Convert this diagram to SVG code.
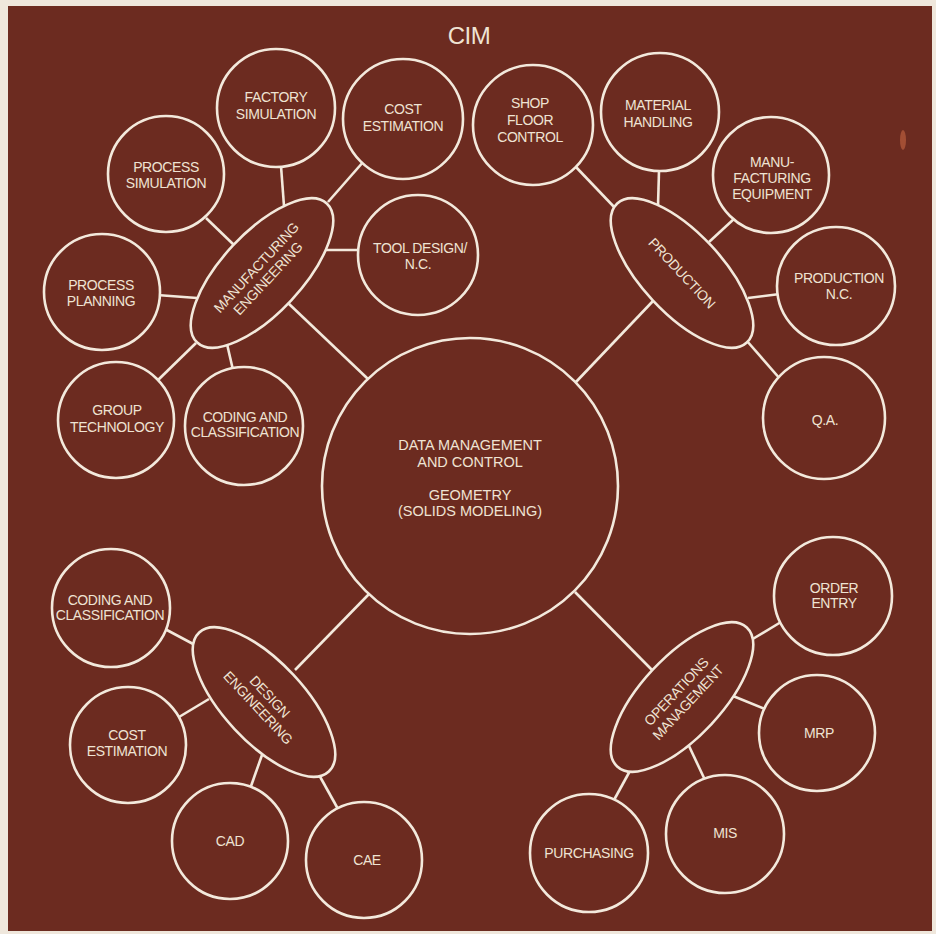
<svg xmlns="http://www.w3.org/2000/svg" width="936" height="934" viewBox="0 0 936 934">
<style>
.bg{fill:#6c2b20}
.n{fill:#6c2b20;stroke:#f3e9dc;stroke-width:2.6}
.c line{stroke:#f3e9dc;stroke-width:2.6}
text{font-family:"Liberation Sans",Arial,sans-serif;font-size:14px;fill:#efe3d3;text-anchor:middle;letter-spacing:-0.4px}
.t{font-size:24px;letter-spacing:-0.5px}
.m{font-size:14.5px;letter-spacing:0}
</style>
<rect width="936" height="934" fill="#efe7dc"/>
<rect class="bg" x="8" y="6" width="924" height="925"/>
<ellipse cx="903" cy="140" rx="3" ry="10" fill="#b0573a" opacity="0.8"/>
<text class="t" x="469" y="44">CIM</text>
<g class="c" id="connectors">
<line x1="281" y1="166" x2="284" y2="206"/>
<line x1="328" y1="202" x2="364" y2="161"/>
<line x1="206" y1="218" x2="234" y2="245"/>
<line x1="322" y1="250" x2="362" y2="250"/>
<line x1="157" y1="295" x2="197" y2="298"/>
<line x1="156" y1="382" x2="196" y2="343"/>
<line x1="227" y1="344" x2="233" y2="370"/>
<line x1="288" y1="303" x2="368" y2="379"/>
<line x1="575" y1="166" x2="616" y2="209"/>
<line x1="659" y1="171" x2="658" y2="206"/>
<line x1="709" y1="242" x2="735" y2="218"/>
<line x1="748" y1="298" x2="780" y2="294"/>
<line x1="747" y1="341" x2="781" y2="380"/>
<line x1="653" y1="301" x2="575" y2="383"/>
<line x1="165" y1="629" x2="195" y2="645"/>
<line x1="179" y1="717" x2="209" y2="699"/>
<line x1="250" y1="789" x2="262" y2="755"/>
<line x1="318" y1="773" x2="338" y2="809"/>
<line x1="295" y1="670" x2="369" y2="594"/>
<line x1="575" y1="592" x2="653" y2="671"/>
<line x1="751" y1="640" x2="781" y2="622"/>
<line x1="733" y1="696" x2="765" y2="709"/>
<line x1="689" y1="746" x2="705" y2="780"/>
<line x1="631" y1="769" x2="614" y2="800"/>
</g>
<g id="central"><circle class="n" cx="470" cy="486" r="148"/>
<text class="m" x="470" y="450">DATA MANAGEMENT</text><text class="m" x="470" y="467">AND CONTROL</text>
<text class="m" x="470" y="500">GEOMETRY</text><text class="m" x="470" y="516">(SOLIDS MODELING)</text></g>

<g id="manufacturing-engineering" transform="translate(262,273) rotate(-47)"><ellipse class="n" rx="95" ry="40"/>
<text y="-3">MANUFACTURING</text><text y="13">ENGINEERING</text></g>
<g id="factory-simulation"><circle class="n" cx="276" cy="108" r="59"/><text x="276" y="102">FACTORY</text><text x="276" y="119">SIMULATION</text></g>
<g id="cost-estimation-1"><circle class="n" cx="403" cy="119" r="60"/><text x="403" y="114">COST</text><text x="403" y="131">ESTIMATION</text></g>
<g id="process-simulation"><circle class="n" cx="166" cy="174" r="58"/><text x="166" y="172">PROCESS</text><text x="166" y="188">SIMULATION</text></g>
<g id="tool-design"><circle class="n" cx="418" cy="255" r="60"/><text x="420" y="253">TOOL DESIGN/</text><text x="418" y="269">N.C.</text></g>
<g id="process-planning"><circle class="n" cx="102" cy="292" r="58"/><text x="101" y="290">PROCESS</text><text x="101" y="306">PLANNING</text></g>
<g id="group-technology"><circle class="n" cx="116" cy="420" r="58"/><text x="117" y="415">GROUP</text><text x="117" y="432">TECHNOLOGY</text></g>
<g id="coding-classification-1"><circle class="n" cx="244" cy="426" r="59"/><text x="245" y="422">CODING AND</text><text x="245" y="437">CLASSIFICATION</text></g>

<g id="production" transform="translate(682,273) rotate(47)"><ellipse class="n" rx="95" ry="40"/><text y="5">PRODUCTION</text></g>
<g id="shop-floor-control"><circle class="n" cx="533" cy="125" r="60"/><text x="530" y="108">SHOP</text><text x="530" y="125">FLOOR</text><text x="530" y="142">CONTROL</text></g>
<g id="material-handling"><circle class="n" cx="660" cy="112" r="59"/><text x="658" y="110">MATERIAL</text><text x="658" y="127">HANDLING</text></g>
<g id="manufacturing-equipment"><circle class="n" cx="771" cy="175" r="58"/><text x="772" y="167">MANU-</text><text x="772" y="183">FACTURING</text><text x="772" y="199">EQUIPMENT</text></g>
<g id="production-nc"><circle class="n" cx="836" cy="286" r="59"/><text x="839" y="283">PRODUCTION</text><text x="839" y="299">N.C.</text></g>
<g id="qa"><circle class="n" cx="824" cy="418" r="61"/><text x="825" y="425">Q.A.</text></g>

<g id="design-engineering" transform="translate(264,702) rotate(47)"><ellipse class="n" rx="95" ry="40"/>
<text y="-3">DESIGN</text><text y="13">ENGINEERING</text></g>
<g id="coding-classification-2"><circle class="n" cx="111" cy="608" r="59"/><text x="110" y="605">CODING AND</text><text x="110" y="620">CLASSIFICATION</text></g>
<g id="cost-estimation-2"><circle class="n" cx="128" cy="745" r="58"/><text x="127" y="740">COST</text><text x="127" y="756">ESTIMATION</text></g>
<g id="cad"><circle class="n" cx="230" cy="841" r="58"/><text x="230" y="846">CAD</text></g>
<g id="cae"><circle class="n" cx="364" cy="860" r="58"/><text x="367" y="865">CAE</text></g>

<g id="operations-management" transform="translate(682,697) rotate(-47)"><ellipse class="n" rx="95" ry="40"/>
<text y="-3">OPERATIONS</text><text y="13">MANAGEMENT</text></g>
<g id="order-entry"><circle class="n" cx="833" cy="596" r="59"/><text x="834" y="593">ORDER</text><text x="834" y="608">ENTRY</text></g>
<g id="mrp"><circle class="n" cx="817" cy="733" r="58"/><text x="819" y="738">MRP</text></g>
<g id="mis"><circle class="n" cx="725" cy="834" r="59"/><text x="725" y="838">MIS</text></g>
<g id="purchasing"><circle class="n" cx="589" cy="853" r="59"/><text x="589" y="858">PURCHASING</text></g>
</svg>
